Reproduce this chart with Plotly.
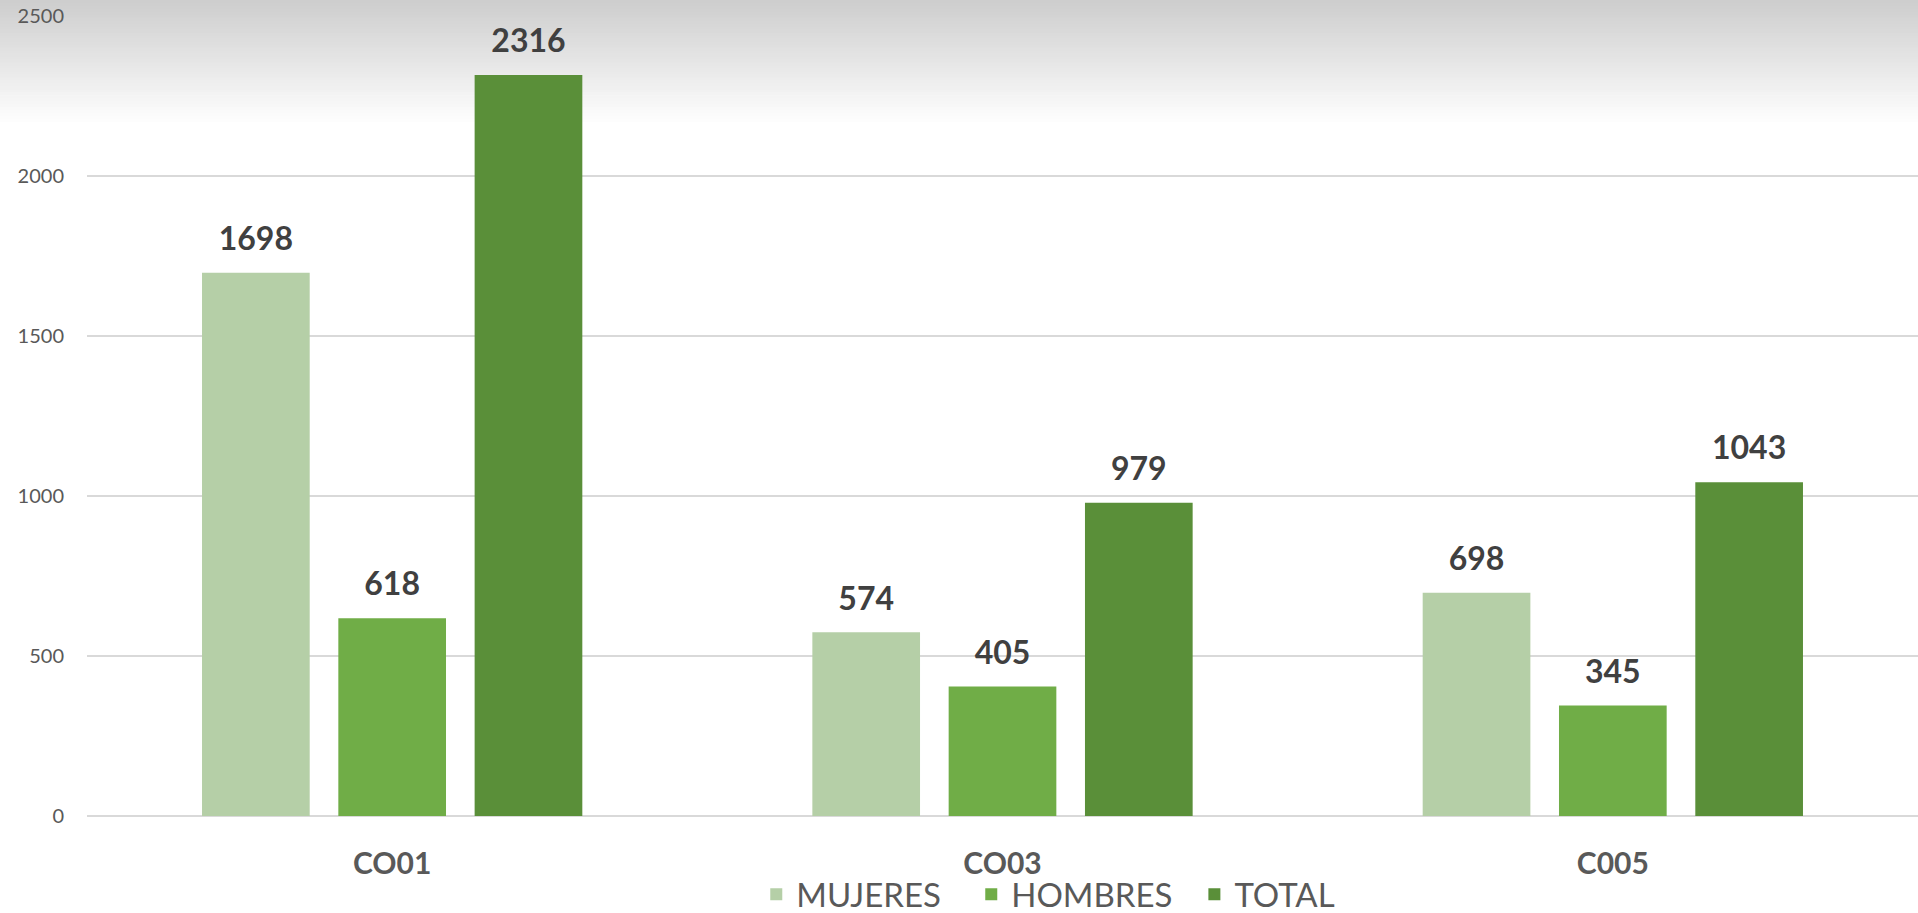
import plotly.graph_objects as go

# data
categorias = ['CO01', 'CO03', 'C005']
mujeres = [1698, 574, 698]
hombres = [618, 405, 345]
total = [2316, 979, 1043]

series = [
    ('MUJERES', mujeres, '#b5cfa7'),
    ('HOMBRES', hombres, '#70ad47'),
    ('TOTAL', total, '#5a8f39'),
]

# trailing no-break spaces widen the gap between legend entries
legend_pad = {'MUJERES': 3, 'HOMBRES': 2, 'TOTAL': 0}

fig = go.Figure()
for name, vals, color in series:
    fig.add_trace(go.Bar(
        name=name + '\u00a0' * legend_pad[name], x=categorias, y=vals,
        offsetgroup=name,
        marker=dict(color=color, line=dict(width=0)),
    ))

# value labels: invisible markers push the text a bit above each bar
for name, vals, color in series:
    fig.add_trace(go.Scatter(
        x=categorias, y=vals, offsetgroup=name, mode='markers+text',
        text=vals, textposition='top center',
        marker=dict(size=22, opacity=0),
        textfont=dict(family='Lato', size=32, color='#404040', weight='bold'),
        showlegend=False, hoverinfo='skip', cliponaxis=False,
    ))

# grey gradient band across the top of the page (page px -> plot paper coords)
plot_top, plot_bot = 16, 816
ph = plot_bot - plot_top
n = 42
top_px = 125
shapes = []
for i in range(n):
    c = int(206 + (255 - 206) * i / (n - 1))
    py0 = i * top_px / n
    py1 = (i + 1) * top_px / n + 0.6
    shapes.append(dict(type='rect', xref='paper', yref='paper',
                       x0=-0.06, x1=1.0,
                       y0=1 - (py1 - plot_top) / ph, y1=1 - (py0 - plot_top) / ph,
                       fillcolor=f'rgb({c},{c},{c})', line=dict(width=0),
                       layer='below'))

fig.update_layout(
    width=1918, height=913, autosize=False,
    margin=dict(l=87, r=0, t=16, b=97, autoexpand=False),
    paper_bgcolor='white', plot_bgcolor='rgba(0,0,0,0)',
    barmode='group', bargap=0.33, bargroupgap=0.21,
    scattermode='group', scattergap=0.33,
    font=dict(family='Lato', color='#595959'),
    shapes=shapes,
    showlegend=True,
    legend=dict(orientation='h', x=0.525, xanchor='center',
                y=-0.098, yanchor='middle', bgcolor='rgba(0,0,0,0)',
                font=dict(size=33, color='#595959'),
                itemwidth=30, tracegroupgap=0),
    xaxis=dict(showgrid=False, showline=False, ticks='',
               ticklabelstandoff=27,
               tickfont=dict(size=30, color='#595959', weight='bold')),
    yaxis=dict(range=[0, 2500], dtick=500, showgrid=True, gridcolor='#d9d9d9',
               gridwidth=2, zeroline=True, zerolinecolor='#d9d9d9', zerolinewidth=2,
               showline=False, ticks='', ticklabelstandoff=22,
               tickfont=dict(size=20, color='#595959')),
)

fig.write_html("out.html", config={'displayModeBar': False},
               post_script="document.body.style.margin='0';")
